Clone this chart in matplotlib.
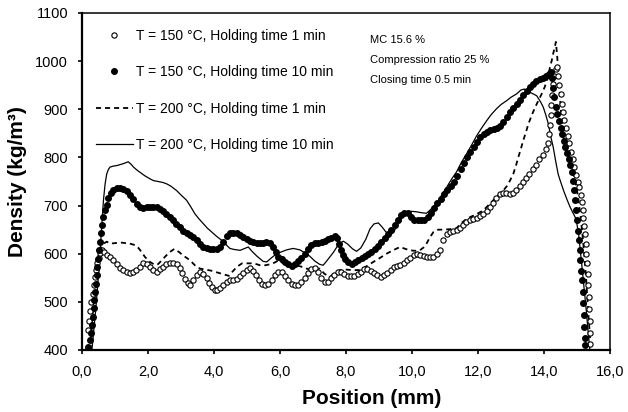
import matplotlib
matplotlib.use("Agg")
import matplotlib.pyplot as plt

plt.rcParams['font.family'] = ['Liberation Sans', 'DejaVu Sans']

# T = 150 °C, holding time 1 min (open circles)
pos_150_1 = [0.19, 0.22, 0.25, 0.28, 0.32, 0.35, 0.39, 0.42, 0.45, 0.50, 0.55, 0.60, 0.68, 0.76, 0.85,
             0.95, 1.05, 1.15, 1.25, 1.35, 1.45, 1.55, 1.65, 1.75, 1.86, 1.96, 2.06, 2.16, 2.26, 2.36,
             2.46, 2.56, 2.66, 2.76, 2.87, 2.96, 3.04, 3.12, 3.20, 3.28, 3.37, 3.47, 3.58, 3.68, 3.78,
             3.86, 3.94, 4.02, 4.10, 4.19, 4.28, 4.38, 4.48, 4.58, 4.69, 4.79, 4.89, 4.99, 5.09, 5.19,
             5.27, 5.35, 5.45, 5.55, 5.65, 5.75, 5.85, 5.95, 6.05, 6.15, 6.25, 6.35, 6.45, 6.55, 6.65,
             6.75, 6.85, 6.95, 7.05, 7.15, 7.25, 7.35, 7.45, 7.55, 7.65, 7.75, 7.85, 7.95, 8.05, 8.15,
             8.25, 8.35, 8.45, 8.55, 8.65, 8.75, 8.85, 8.95, 9.05, 9.15, 9.25, 9.35, 9.45, 9.55, 9.65,
             9.75, 9.85, 9.95, 10.05, 10.15, 10.25, 10.35, 10.45, 10.55, 10.65, 10.75, 10.85, 10.95,
             11.05, 11.15, 11.25, 11.35, 11.45, 11.55, 11.65, 11.76, 11.86, 11.96, 12.06, 12.16, 12.26,
             12.36, 12.46, 12.56, 12.66, 12.76, 12.86, 12.96, 13.06, 13.16, 13.26, 13.36, 13.46, 13.56,
             13.66, 13.76, 13.86, 13.96, 14.06, 14.13, 14.16, 14.18, 14.20, 14.22, 14.25, 14.28, 14.31,
             14.36, 14.40, 14.43, 14.46, 14.50, 14.54, 14.57, 14.62, 14.67, 14.72, 14.77, 14.82, 14.87,
             14.92, 14.97, 15.02, 15.07, 15.11, 15.14, 15.17, 15.19, 15.22, 15.24, 15.26, 15.28, 15.30,
             15.32, 15.34, 15.36, 15.37, 15.38, 15.39, 15.40]
dens_150_1 = [441, 460, 480, 500, 517, 535, 552, 567, 580, 592, 601, 608, 604, 598, 593,
              586, 578, 570, 566, 561, 559, 561, 566, 573, 580, 578, 572, 566, 563, 568,
              573, 578, 581, 581, 578, 570, 560, 548, 539, 535, 545, 555, 562, 558, 550,
              540, 531, 525, 524, 529, 536, 542, 545, 546, 548, 553, 559, 566, 570, 565,
              556, 545, 537, 535, 538, 546, 555, 561, 562, 553, 545, 538, 534, 535, 542,
              550, 560, 568, 571, 562, 549, 542, 541, 550, 556, 561, 562, 558, 554, 553,
              554, 557, 562, 568, 568, 564, 560, 555, 552, 555, 560, 567, 573, 575, 576,
              580, 586, 592, 598, 600, 598, 596, 594, 593, 594, 600, 608, 628,
              640, 645, 648, 650, 654, 660, 665, 669, 672, 675, 678, 683, 689,
              696, 706, 716, 724, 726, 726, 725, 727, 732, 740, 748, 757, 766,
              775, 785, 796, 806, 818, 830, 848, 868, 888, 908, 930, 952, 970,
              983, 988, 970, 950, 932, 912, 895, 878, 862, 845, 830, 812, 796,
              780, 764, 750, 738, 722, 708, 690, 675, 658, 640, 620, 600, 580,
              558, 535, 510, 485, 460, 435, 412]

# T = 150 °C, holding time 10 min (filled circles)
pos_150_10 = [0.19, 0.23, 0.26, 0.29, 0.32, 0.35, 0.37, 0.39, 0.41, 0.44, 0.46, 0.49, 0.52, 0.55, 0.58,
              0.61, 0.65, 0.70, 0.75, 0.80, 0.87, 0.95, 1.05, 1.15, 1.25, 1.35, 1.45, 1.56, 1.66, 1.76,
              1.86, 1.96, 2.06, 2.16, 2.26, 2.36, 2.46, 2.56, 2.66, 2.76, 2.86, 2.96, 3.07, 3.17, 3.27,
              3.37, 3.47, 3.57, 3.68, 3.78, 3.88, 3.98, 4.08, 4.18, 4.28, 4.38, 4.48, 4.59, 4.69, 4.79,
              4.89, 4.99, 5.09, 5.19, 5.29, 5.39, 5.49, 5.59, 5.69, 5.80, 5.88, 5.95, 6.05, 6.15, 6.25,
              6.35, 6.45, 6.55, 6.65, 6.75, 6.85, 6.95, 7.05, 7.15, 7.26, 7.36, 7.46, 7.56, 7.66, 7.74,
              7.80, 7.86, 7.92, 7.98, 8.07, 8.17, 8.27, 8.37, 8.47, 8.57, 8.67, 8.77, 8.87, 8.97, 9.07,
              9.17, 9.27, 9.37, 9.47, 9.57, 9.67, 9.77, 9.87, 9.97, 10.07, 10.17, 10.27, 10.37, 10.47,
              10.57, 10.67, 10.77, 10.87, 10.97, 11.07, 11.17, 11.27, 11.37, 11.47, 11.57, 11.67, 11.77,
              11.87, 11.97, 12.07, 12.17, 12.27, 12.37, 12.47, 12.57, 12.67, 12.77, 12.87, 12.97, 13.07,
              13.17, 13.27, 13.37, 13.47, 13.57, 13.67, 13.77, 13.87, 13.97, 14.07, 14.15, 14.20, 14.24,
              14.27, 14.31, 14.35, 14.40, 14.45, 14.50, 14.55, 14.60, 14.65, 14.70, 14.75, 14.80, 14.85,
              14.89, 14.92, 14.95, 14.98, 15.00, 15.03, 15.05, 15.08, 15.10, 15.13, 15.15, 15.17, 15.19,
              15.21, 15.22, 15.24, 15.25]
dens_150_10 = [407, 420, 435, 452, 469, 487, 504, 521, 538, 556, 573, 590, 607, 625, 642,
               659, 676, 690, 702, 716, 726, 732, 736, 737, 735, 731, 722, 713, 704, 696,
               694, 697, 698, 698, 696, 693, 689, 683, 676, 669, 662, 655, 648, 643, 639,
               634, 628, 620, 614, 611, 609, 609, 610, 614, 625, 636, 642, 644, 642, 638,
               634, 630, 626, 624, 623, 622, 623, 624, 622, 614, 603, 593, 588, 583, 579,
               575, 578, 584, 592, 600, 610, 618, 622, 623, 624, 627, 630, 633, 636, 632,
               620, 608, 598, 590, 582, 579, 582, 587, 591, 595, 600, 604, 609, 615, 624,
               632, 640, 650, 660, 670, 680, 685, 684, 677, 671, 669, 669, 671, 676,
               684, 695, 705, 714, 723, 732, 740, 748, 762, 776, 789, 801, 812,
               822, 833, 842, 848, 853, 856, 859, 862, 866, 874, 884, 894, 903,
               911, 920, 930, 939, 946, 952, 958, 962, 966, 970, 974, 978, 965,
               945, 925, 905, 890, 876, 862, 848, 835, 822, 810, 797, 785, 770,
               752, 732, 711, 690, 669, 648, 628, 607, 586, 565, 545, 520, 497,
               472, 448, 425, 410]

# T = 200 °C, holding time 1 min (dashed line)
pos_200_1 = [0.25, 0.30, 0.35, 0.40, 0.45, 0.52, 0.60, 0.68, 0.75, 0.85, 1.0, 1.2, 1.45, 1.6, 1.71,
             1.8, 1.91, 2.06, 2.2, 2.3, 2.4, 2.52, 2.65, 2.8, 2.95, 3.07, 3.2, 3.32, 3.45, 3.58,
             3.75, 3.9, 4.05, 4.2, 4.35, 4.45, 4.55, 4.7, 4.85, 5.0, 5.2, 5.4, 5.55, 5.7, 5.85,
             5.95, 6.1, 6.25, 6.4, 6.55, 6.7, 6.85, 7.0, 7.21, 7.35, 7.52, 7.65, 7.82, 8.0, 8.2,
             8.42, 8.6, 8.83, 9.0, 9.23, 9.45, 9.64, 9.8, 9.94, 10.1, 10.24, 10.35, 10.44, 10.55,
             10.65, 10.8, 10.95, 11.15, 11.35, 11.5, 11.65, 11.76, 11.95, 12.16, 12.35, 12.56, 12.75,
             12.87, 12.97, 13.07, 13.15, 13.22, 13.30, 13.37, 13.45, 13.53, 13.63, 13.73, 13.83,
             13.93, 14.02, 14.08, 14.14, 14.18, 14.23, 14.28, 14.33, 14.36, 14.40, 14.44, 14.48,
             14.52, 14.56, 14.62, 14.70, 14.80, 14.90, 14.98, 15.05, 15.12, 15.18, 15.23, 15.28,
             15.32, 15.36, 15.40, 15.42]
dens_200_1 = [400, 450, 500, 545, 580, 605, 615, 622, 625, 621, 622, 623, 621, 618, 612,
              604, 593, 583, 577, 578, 585, 594, 603, 610, 603, 596, 590, 583, 574, 569,
              567, 565, 562, 559, 556, 554, 562, 573, 580, 580, 580, 576, 576, 578, 582,
              586, 580, 573, 572, 575, 572, 568, 568, 569, 558, 552, 560, 566, 567, 566,
              566, 573, 583, 590, 600, 608, 614, 610, 607, 606, 607, 613, 621, 635,
              645, 650, 650, 651, 653, 664, 672, 676, 682, 690, 703, 718, 730,
              740, 752, 766, 783, 800, 818, 835, 852, 870, 888, 904, 918,
              932, 946, 959, 973, 987, 1000, 1016, 1030, 1040, 1010, 970, 930,
              890, 855, 830, 810, 790, 765, 740, 710, 670, 630, 590, 545,
              500, 460, 420, 400]

# T = 200 °C, holding time 10 min (solid line)
pos_200_10 = [0.30, 0.34, 0.39, 0.44, 0.50, 0.55, 0.60, 0.65, 0.70, 0.75, 0.80, 0.85, 0.95, 1.05, 1.15,
              1.25, 1.40, 1.50, 1.56, 1.66, 1.76, 1.9, 2.05, 2.16, 2.3, 2.45, 2.57, 2.7, 2.87, 3.0,
              3.17, 3.3, 3.42, 3.55, 3.68, 3.8, 3.93, 4.08, 4.23, 4.35, 4.48, 4.6, 4.79, 4.9, 5.04,
              5.15, 5.3, 5.49, 5.6, 5.75, 5.9, 6.05, 6.2, 6.4, 6.6, 6.75, 6.9, 7.05, 7.2, 7.31,
              7.45, 7.62, 7.78, 7.92, 8.05, 8.2, 8.32, 8.45, 8.6, 8.73, 8.85, 8.98, 9.1, 9.2, 9.33,
              9.45, 9.55, 9.64, 9.74, 9.84, 10.0, 10.14, 10.3, 10.44, 10.6, 10.75, 10.9, 11.05, 11.2,
              11.35, 11.5, 11.65, 11.8, 11.96, 12.1, 12.26, 12.4, 12.56, 12.7, 12.87, 13.0, 13.17,
              13.3, 13.4, 13.5, 13.58, 13.7, 13.78, 13.9, 13.98, 14.06, 14.13, 14.2, 14.28, 14.36,
              14.43, 14.5, 14.6, 14.7, 14.79, 14.89, 14.95, 14.99, 15.05, 15.09, 15.14, 15.19, 15.24,
              15.29, 15.34, 15.39]
dens_200_10 = [400, 428, 465, 504, 555, 607, 660, 711, 745, 766, 775, 780, 782, 783, 785,
               787, 791, 785, 780, 774, 769, 762, 756, 752, 750, 748, 745, 740, 731, 722,
               711, 697, 683, 672, 662, 653, 645, 636, 628, 620, 611, 609, 607, 610, 614,
               605, 595, 584, 583, 592, 600, 604, 608, 611, 608, 602, 595, 585, 578, 576,
               588, 603, 620, 626, 620, 610, 605, 612, 630, 652, 662, 664, 655, 646, 638,
               645, 660, 668, 680, 687, 688, 687, 685, 684, 694, 705, 722, 738, 755,
               770, 790, 807, 825, 845, 860, 876, 889, 901, 910, 918, 925, 932,
               940, 942, 938, 935, 931, 928, 915, 904, 887, 870, 845, 821, 790,
               765, 750, 730, 712, 697, 683, 675, 665, 640, 614, 580, 545, 510,
               476, 435, 400]

x_ticks = [0, 2, 4, 6, 8, 10, 12, 14, 16]
x_ticklabels = ['0,0', '2,0', '4,0', '6,0', '8,0', '10,0', '12,0', '14,0', '16,0']
y_ticks = [400, 500, 600, 700, 800, 900, 1000, 1100]
notes = ['MC 15.6 %', 'Compression ratio 25 %', 'Closing time 0.5 min']

fig = plt.figure(figsize=(6.28, 4.12), dpi=100)
ax = fig.add_axes([82 / 628, 1 - 350 / 412, 528 / 628, 337 / 412])

ax.plot(pos_150_1, dens_150_1, linestyle='none', marker='o', markersize=3.8,
        markerfacecolor='white', markeredgecolor='black', markeredgewidth=0.8,
        label='T = 150 \u00b0C, Holding time 1 min', zorder=3)
ax.plot(pos_150_10, dens_150_10, linestyle='none', marker='o', markersize=4.0,
        color='black', label='T = 150 \u00b0C, Holding time 10 min', zorder=4)
ax.plot(pos_200_1, dens_200_1, color='black', linewidth=1.3, linestyle=(0, (2.8, 2.2)),
        label='T = 200 \u00b0C, Holding time 1 min', zorder=2)
ax.plot(pos_200_10, dens_200_10, color='black', linewidth=0.9,
        label='T = 200 \u00b0C, Holding time 10 min', zorder=2)

ax.set_xlim(0, 16)
ax.set_ylim(400, 1100)
ax.set_xticks(x_ticks)
ax.set_xticklabels(x_ticklabels)
ax.set_yticks(y_ticks)
ax.tick_params(direction='out', length=3, width=1.2, labelsize=10.5)
ax.tick_params(axis='x', pad=8)
ax.tick_params(axis='y', pad=7)
for side in ['left', 'bottom']:
    ax.spines[side].set_linewidth(1.6)
for side in ['top', 'right']:
    ax.spines[side].set_linewidth(1.1)

ax.set_xlabel('Position (mm)', fontsize=15, fontweight='bold')
ax.set_ylabel('Density (kg/m\u00b3)', fontsize=15, fontweight='bold')
ax.xaxis.set_label_coords(0.549, -0.117)
ax.yaxis.set_label_coords(-0.105, 0.5)

ax.legend(loc='upper left', bbox_to_anchor=(0.022, 0.962), frameon=False, fontsize=10,
          numpoints=1, handlelength=2.6, handletextpad=0.25, labelspacing=1.62,
          borderpad=0.2, borderaxespad=0)

for i, s in enumerate(notes):
    ax.text((370 - 82) / 528, 1 - (40 + 20 * i - 13) / 337, s, transform=ax.transAxes,
            fontsize=8, va='center', ha='left')

fig.savefig('out.png', dpi=100)
